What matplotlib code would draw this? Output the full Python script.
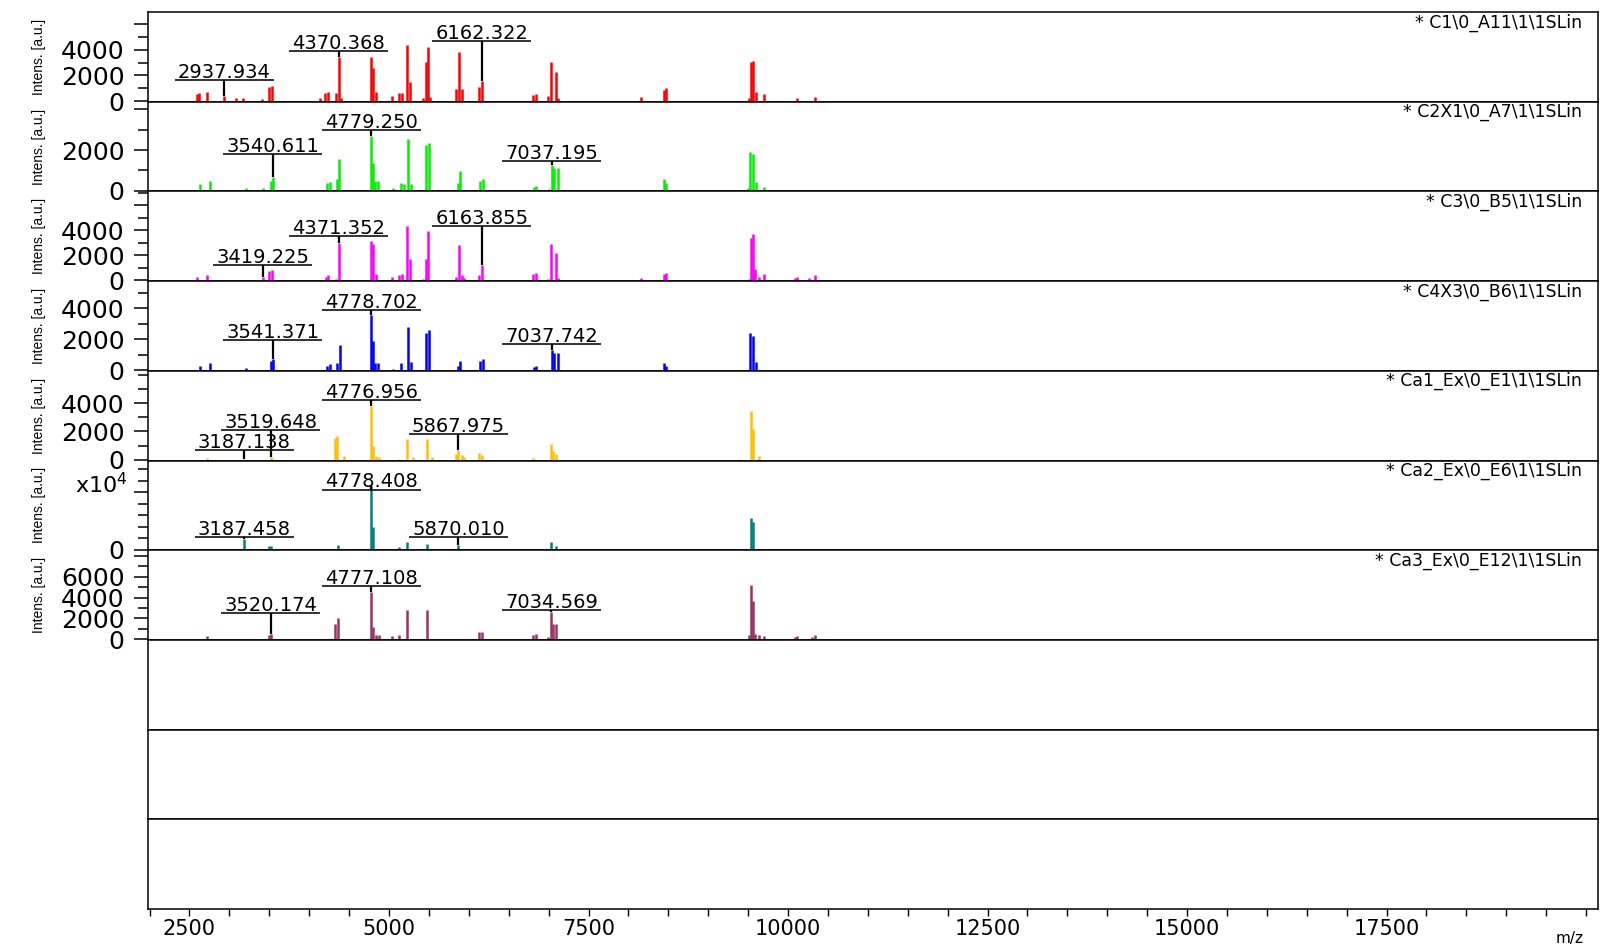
import matplotlib
matplotlib.use("Agg")
import matplotlib.pyplot as plt
from matplotlib.ticker import FixedLocator, MultipleLocator
from matplotlib.transforms import ScaledTranslation

# spectrum names, colours
names = [r"* C1\0_A11\1\1SLin", r"* C2X1\0_A7\1\1SLin", r"* C3\0_B5\1\1SLin",
         r"* C4X3\0_B6\1\1SLin", r"* Ca1_Ex\0_E1\1\1SLin", r"* Ca2_Ex\0_E6\1\1SLin",
         r"* Ca3_Ex\0_E12\1\1SLin"]
colors = ["#ff0000", "#00f000", "#ff00ff", "#0000ff", "#ffc000", "#008080", "#993366"]

# peak lists (m/z, intensity a.u.)
c1_mz = [2595, 2621, 2725, 2937.934, 3080, 3169, 3404, 3498, 3535, 4135, 4197, 4239, 4333,
         4370.368, 4396, 4772, 4795, 4840, 5033, 5127, 5163, 5231, 5262, 5429, 5466, 5492,
         5518, 5842, 5873, 5910, 6129, 6162.322, 6807, 6839, 6995, 7032, 7095, 7121, 8154,
         8441, 8467, 9511, 9538, 9564, 9605, 9705, 10112, 10336]
c1_int = [560, 610, 690, 370, 240, 240, 160, 1090, 1170, 210, 610, 690, 610,
          3410, 210, 3410, 2600, 690, 430, 610, 610, 4380, 1490, 210, 3040, 4260,
          350, 910, 3820, 910, 1090, 1570, 480, 530, 430, 3040, 2290, 210, 350,
          880, 1010, 210, 3040, 3150, 690, 560, 270, 350]
c1_marked = [2937.934, 4370.368, 6162.322]

c2_mz = [2633, 2761, 3209, 3427, 3527, 3540.611, 4226, 4266, 4349, 4375, 4779.250, 4800,
         4830, 4858, 5054, 5149, 5194, 5244, 5278, 5468, 5501, 5859, 5887, 6139, 6172,
         6815, 6843, 7005, 7037.195, 7067, 7117, 8448, 8476, 9500, 9528, 9556, 9595, 9696]
c2_int = [330, 480, 115, 115, 500, 690, 400, 450, 560, 1550, 2700, 1350,
          500, 500, 115, 400, 350, 2540, 350, 2260, 2330, 400, 950, 500, 600,
          200, 250, 100, 1250, 1100, 1100, 560, 400, 150, 1900, 1800, 450, 200]
c2_marked = [3540.611, 4779.250, 7037.195]

c3_mz = [2595, 2725, 3419.225, 3498, 3535, 4213, 4239, 4333, 4371.352, 4772, 4795, 4840,
         5033, 5127, 5163, 5231, 5262, 5429, 5466, 5492, 5842, 5873, 5910, 5936, 6129,
         6163.855, 6807, 6839, 6995, 7032, 7095, 7121, 8154, 8441, 8467, 9511, 9538, 9564,
         9590, 9642, 9705, 10086, 10112, 10268, 10336]
c3_int = [290, 400, 290, 750, 830, 290, 400, 130, 3020, 3150, 2880, 480,
          290, 400, 480, 4350, 1740, 130, 1680, 3950, 290, 2800, 400, 210, 400,
          1200, 480, 610, 130, 2940, 2160, 210, 210, 480, 610, 130, 3420, 3740,
          880, 290, 480, 210, 290, 210, 400]
c3_marked = [3419.225, 4371.352, 6163.855]

c4_mz = [2633, 2761, 3209, 3527, 3541.371, 4226, 4266, 4349, 4380, 4778.702, 4800, 4830,
         4858, 5054, 5149, 5244, 5278, 5468, 5501, 5859, 5887, 6139, 6172, 6815, 6843,
         7037.742, 7067, 7117, 8448, 8476, 9528, 9556, 9595]
c4_int = [260, 480, 150, 590, 740, 300, 370, 480, 1610, 3580, 1900, 480,
          480, 90, 480, 2770, 520, 2440, 2600, 260, 590, 590, 700, 200, 260,
          1310, 1130, 1130, 480, 260, 2380, 2220, 520]
c4_marked = [3541.371, 4778.702, 7037.742]

ca1_mz = [2725, 3187.138, 3519.648, 3535, 4318, 4344, 4432, 4776.956, 4800, 4840, 4870,
          5127, 5231, 5299, 5482, 5544, 5842, 5867.975, 5910, 5936, 6129, 6160, 6807,
          7032, 7058, 7095, 9538, 9564, 9642]
ca1_int = [160, 60, 210, 160, 1550, 1670, 280, 3820, 970, 280, 210,
           90, 1500, 210, 1500, 210, 440, 690, 350, 210, 510, 350, 120,
           1130, 620, 440, 3450, 2180, 280]
ca1_marked = [3187.138, 3519.648, 4776.956, 5867.975]

ca2_mz = [3187.458, 3498, 3519, 4360, 4778.408, 4800, 5127, 5231, 5482, 5842, 5870.010,
          7032, 7095, 9538, 9564]
ca2_int = [1900, 580, 580, 750, 11150, 3930, 460, 1330, 1040, 170, 750,
           1330, 580, 5490, 4800]
ca2_marked = [3187.458, 4778.408, 5870.010]

ca3_mz = [2725, 3498, 3520.174, 4318, 4360, 4777.108, 4800, 4840, 4870, 5033, 5127, 5231,
          5482, 6129, 6160, 6807, 6839, 6995, 7034.569, 7058, 7095, 9511, 9538, 9564,
          9590, 9642, 9705, 10086, 10112, 10295, 10336]
ca3_int = [310, 410, 500, 1450, 2040, 4560, 1200, 410, 410, 310, 410, 2830,
           2830, 720, 720, 410, 500, 250, 2610, 1450, 1420, 410, 5220, 3710,
           500, 410, 310, 250, 310, 250, 410]
ca3_marked = [3520.174, 4777.108, 7034.569]

spectra = [(c1_mz, c1_int, c1_marked), (c2_mz, c2_int, c2_marked),
           (c3_mz, c3_int, c3_marked), (c4_mz, c4_int, c4_marked),
           (ca1_mz, ca1_int, ca1_marked), (ca2_mz, ca2_int, ca2_marked),
           (ca3_mz, ca3_int, ca3_marked)]

# layout: height of each peak label, y range and labelled y ticks per panel
label_levels = [[1630, 3900, 4700], [1810, 2970, 1470], [1200, 3540, 4350],
                [1930, 3920, 1670], [670, 2080, 4210, 1850], [2200, 10470, 2200],
                [2550, 5130, 2830]]
y_tops = [6960, 4370, 7120, 5770, 6270, 15540, 8540]
y_major = [[0, 2000, 4000, 6000], [0, 2000, 4000], [0, 2000, 4000, 6000],
           [0, 2000, 4000], [0, 2000, 4000], [0, 10000], [0, 2000, 4000, 6000, 8000]]
y_ticklabels = [["0", "2000", "4000", ""], ["0", "2000", ""], ["0", "2000", "4000", ""],
                ["0", "2000", "4000"], ["0", "2000", "4000"], ["0", ""],
                ["0", "2000", "4000", "6000", ""]]
y_minor = [1000, 1000, 1000, 1000, 1000, 2000, 1000]

W, H = 1601, 951
fig, axes = plt.subplots(10, 1, sharex=True, figsize=(W / 100, H / 100), dpi=100,
                         gridspec_kw=dict(hspace=0))
fig.subplots_adjust(left=148 / W, right=1598 / W, top=1 - 12 / H, bottom=1 - 909 / H)
ax_w = 1598 - 148

for ax in axes:
    ax.set_xlim(1980, 20150)
    for s in ax.spines.values():
        s.set_linewidth(1.1)
    ax.tick_params(axis="x", which="both", bottom=False, labelbottom=False)
    ax.set_yticks([])

texts = []
for i, (mz, inten, marked) in enumerate(spectra):
    ax = axes[i]
    ax.vlines(mz, 0, inten, color=colors[i], lw=1.8)
    ax.set_ylim(-0.007 * y_tops[i], y_tops[i])
    ax.yaxis.set_major_locator(FixedLocator(y_major[i]))
    ax.set_yticklabels(y_ticklabels[i])
    ax.yaxis.set_minor_locator(MultipleLocator(y_minor[i]))
    ax.tick_params(axis="y", which="major", direction="out", length=10, width=1.1,
                   pad=7, labelsize=18)
    ax.tick_params(axis="y", which="minor", direction="out", length=7, width=1.1)
    ax.text(1 - 16 / ax_w, 0.985, names[i], transform=ax.transAxes, ha="right",
            va="top", fontsize=12.5)
    ax.text(-109 / ax_w, 0.5, "Intens. [a.u.]", transform=ax.transAxes, rotation=90,
            ha="center", va="center", fontsize=10, family="Liberation Sans")
    lift = ax.transData + ScaledTranslation(0, 1.5 / 72, fig.dpi_scale_trans)
    for m, lev in zip(marked, label_levels[i]):
        t = ax.text(m, lev, f"{m:.3f}", transform=lift, ha="center", va="baseline",
                    fontsize=14)
        texts.append((ax, t, m, lev, inten[mz.index(m)]))

# the intensity scale of the Ca2 panel is given in units of 10^4
axes[5].text(-20 / ax_w, 0.63, r"x10$^{4}$", transform=axes[5].transAxes,
             ha="right", va="baseline", fontsize=16)

# underline each peak label and connect it to its peak
fig.canvas.draw()
for ax, t, m, lev, top in texts:
    bb = t.get_window_extent()
    inv = ax.transData.inverted()
    x0 = inv.transform((bb.x0 - 3, bb.y0))[0]
    x1 = inv.transform((bb.x1 + 3, bb.y0))[0]
    ax.hlines(lev, x0, x1, color="#222222", lw=1.3)
    ax.vlines(m, top, lev, color="black", lw=1.6)

bottom = axes[-1]
bottom.xaxis.set_major_locator(FixedLocator([2500, 5000, 7500, 10000, 12500, 15000, 17500]))
bottom.xaxis.set_minor_locator(MultipleLocator(500))
bottom.tick_params(axis="x", which="both", bottom=True, labelbottom=True, direction="out",
                   length=5, width=1.0, pad=2, labelsize=15)
fig.text(1570 / W, 1 - 938 / H, "m/z", ha="center", va="center", fontsize=11)

fig.savefig("out.png", dpi=100)
